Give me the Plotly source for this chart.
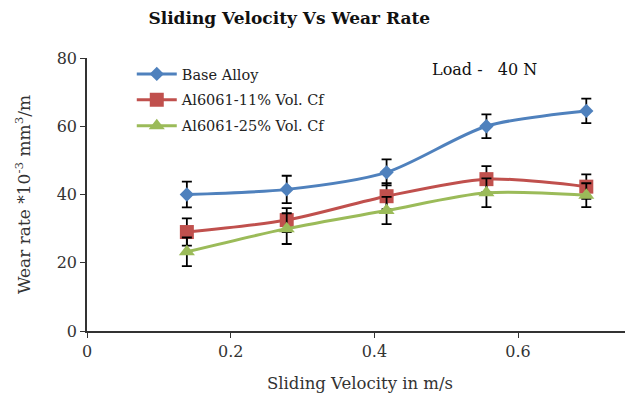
import plotly.graph_objects as go

velocity = [0.139, 0.278, 0.417, 0.556, 0.695]
series_names = ["Base Alloy", "Al6061-11% Vol. Cf", "Al6061-25% Vol. Cf"]
base_alloy = [40.0, 41.5, 46.5, 60.0, 64.5]
base_err = [3.8, 4.0, 3.8, 3.5, 3.6]
cf11 = [29.0, 32.5, 39.5, 44.5, 42.3]
cf11_err = [4.0, 3.5, 3.8, 3.8, 3.6]
cf25 = [23.2, 30.0, 35.3, 40.5, 39.8]
cf25_err = [4.2, 4.5, 4.0, 4.2, 3.5]
y_ticks = [0, 20, 40, 60, 80]
x_ticks = [0, 0.2, 0.4, 0.6]

FONT = "DejaVu Serif"
colors = ["#4F81BD", "#C0504D", "#9BBB59"]
symbols = ["diamond", "square", "triangle-up"]
msizes = [11, 14, 14]

fig = go.Figure()
for i, (name, ys, errs, c, s, ms) in enumerate(zip(series_names, [base_alloy, cf11, cf25],
                                    [base_err, cf11_err, cf25_err], colors, symbols, msizes)):
    fig.add_trace(go.Scatter(
        x=velocity, y=ys, name=name, mode="lines+markers", legendgroup=f"g{i}",
        line=dict(color=c, width=3, shape="spline", smoothing=0.8),
        marker=dict(symbol=s, size=ms, color=c),
        error_y=dict(type="data", array=errs, visible=True, color="#000000",
                     thickness=1.8, width=5),
    ))

fig.update_layout(
    width=625, height=395,
    margin=dict(l=79, r=0, t=50, b=72),
    paper_bgcolor="white", plot_bgcolor="white",
    font=dict(family=FONT, size=14, color="#222222"),
    title=dict(text="<b>Sliding Velocity Vs Wear Rate</b>", x=0.45, xanchor="center",
               y=0.975, yanchor="middle", font=dict(family=FONT, size=17, color="#111111")),
    showlegend=True,
    legend=dict(x=0.082, y=1.0, xanchor="left", yanchor="top", bgcolor="rgba(0,0,0,0)",
                font=dict(family=FONT, size=14.5, color="#222222"), traceorder="grouped",
                tracegroupgap=4, itemwidth=40),
    xaxis=dict(range=[0, 0.76], tickvals=x_ticks, ticktext=["0", "0.2", "0.4", "0.6"],
               showline=True, linecolor="#333333", linewidth=1.5, ticks="outside",
               ticklen=5, tickcolor="#333333", showgrid=False, zeroline=False,
               automargin=False,
               tickfont=dict(family=FONT, size=16, color="#333333"),
               title=dict(text="Sliding Velocity in m/s", font=dict(family=FONT, size=16.5, color="#333333"),
                          standoff=17)),
    yaxis=dict(range=[0, 80], tickvals=y_ticks, showline=True, linecolor="#333333",
               linewidth=1.5, ticks="outside", ticklen=5, tickcolor="#333333",
               showgrid=False, zeroline=False, automargin=False,
               tickfont=dict(family=FONT, size=16, color="#333333"),
               title=dict(text="Wear rate *10<sup>-3</sup> mm<sup>3</sup>/m",
                          font=dict(family=FONT, size=17, color="#333333"), standoff=22)),
    annotations=[dict(text="Load -   40 N", x=0.628, y=1.0, xref="paper", yref="paper",
                      xanchor="left", yanchor="top", showarrow=False,
                      font=dict(family=FONT, size=16, color="#111111"))],
)

fig.write_html("out.html")
